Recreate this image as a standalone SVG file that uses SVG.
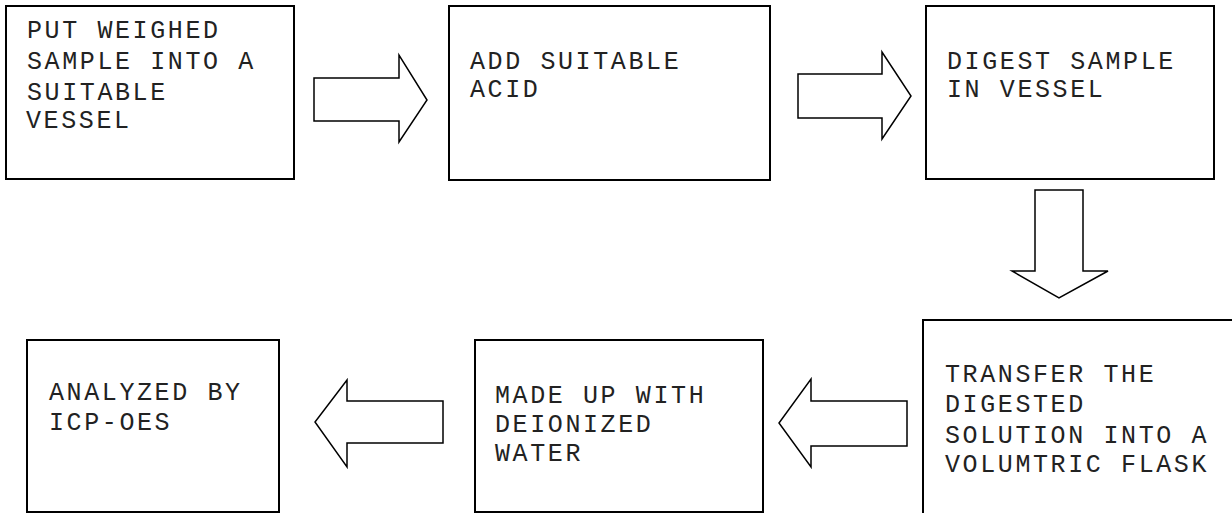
<svg xmlns="http://www.w3.org/2000/svg" width="1232" height="513" viewBox="0 0 1232 513">
<style>
.box{fill:#fff;stroke:#000;stroke-width:2}
.arr{fill:#fff;stroke:#000;stroke-width:1.5;stroke-linejoin:miter}
text{font-family:"Liberation Mono","Courier New",monospace;font-size:25px;letter-spacing:2.6px;fill:#222}
</style>
<rect width="1232" height="513" fill="#fff"/>
<g id="connectors">
<polygon class="arr" points="314,78 399,78 399,55 427,100 399,142 399,121 314,121"/>
<polygon class="arr" points="798,74 882,74 882,52 911,96 882,139 882,118 798,118"/>
<polygon class="arr" points="1035,190 1083,190 1083,271 1108,271 1059,298 1012,271 1035,271"/>
<polygon class="arr" points="907,401 811,401 811,379 779,423 811,467 811,446 907,446"/>
<polygon class="arr" points="443,401 347,401 347,380 315,422 347,467 347,443 443,443"/>
</g>
<g id="n1">
<rect class="box" x="6" y="6" width="288" height="173"/>
<text x="27" y="38">PUT WEIGHED</text>
<text x="27" y="69">SAMPLE INTO A</text>
<text x="27" y="100">SUITABLE</text>
<text x="26" y="128">VESSEL</text>
</g>
<g id="n2">
<rect class="box" x="449" y="6" width="321" height="174"/>
<text x="470" y="69">ADD SUITABLE</text>
<text x="470" y="97">ACID</text>
</g>
<g id="n3">
<rect class="box" x="926" y="6" width="288" height="173"/>
<text x="947" y="69">DIGEST SAMPLE</text>
<text x="947" y="97">IN VESSEL</text>
</g>
<g id="n4">
<rect class="box" x="923" y="320" width="400" height="300"/>
<text x="945" y="382">TRANSFER THE</text>
<text x="945" y="412">DIGESTED</text>
<text x="945" y="443">SOLUTION INTO A</text>
<text x="945" y="472">VOLUMTRIC FLASK</text>
</g>
<g id="n5">
<rect class="box" x="475" y="340" width="288" height="172"/>
<text x="495" y="403">MADE UP WITH</text>
<text x="495" y="432">DEIONIZED</text>
<text x="495" y="461">WATER</text>
</g>
<g id="n6">
<rect class="box" x="27" y="340" width="252" height="172"/>
<text x="49" y="400">ANALYZED BY</text>
<text x="49" y="430">ICP-OES</text>
</g>
</svg>
